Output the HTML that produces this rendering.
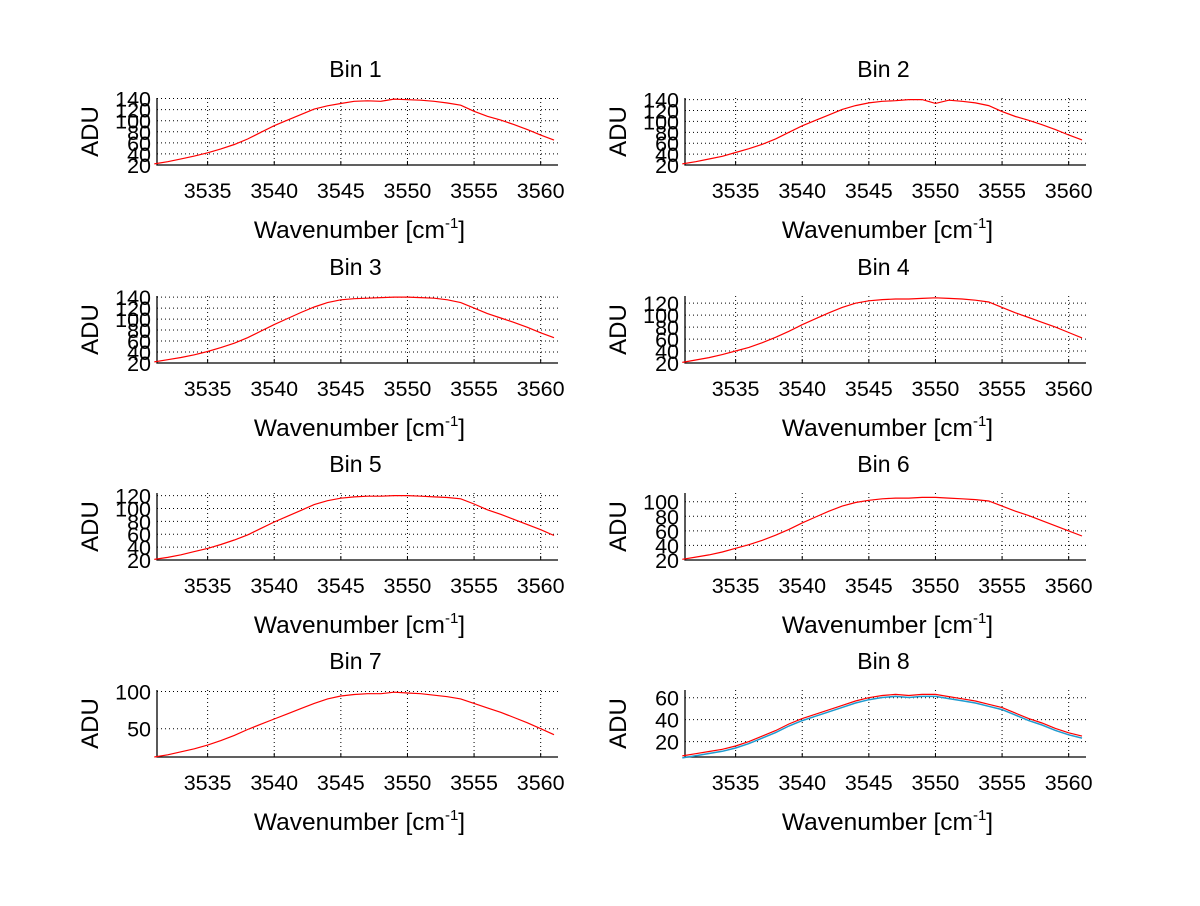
<!DOCTYPE html>
<html><head><meta charset="utf-8"><style>
body{margin:0;background:#fff}
svg text{font-family:"Liberation Sans",sans-serif;fill:#000}
</style></head><body>
<svg id="fig" width="1200" height="901" xmlns="http://www.w3.org/2000/svg"></svg>
<script>
const wavenumbers=[3531,3532,3533,3534,3535,3536,3537,3538,3539,3540,3541,3542,3543,3544,3545,3546,3547,3548,3549,3550,3551,3552,3553,3554,3555,3556,3557,3558,3559,3560,3561];
const xTicks=[3535,3540,3545,3550,3555,3560];
const bin1=[22,26,31,36,42,49,57,67,79,91,101,111,121,127,131,135,136,135,139,138,137,135,132,128,117,108,101,93,84,74,65];
const bin2=[22,26,31,36,43,50,58,68,80,92,102,112,122,129,134,137,138,140,140,133,139,137,134,129,118,109,102,94,85,75,66];
const bin3=[22,26,30,35,41,48,56,66,78,90,101,112,122,130,135,137,138,139,140,140,139,138,135,130,120,110,102,94,85,75,66];
const bin4=[21,25,29,34,40,46,54,63,73,84,94,104,113,120,124,126,127,127,128,129,128,127,125,122,113,104,96,88,80,71,62];
const bin5=[21,24,28,33,38,44,51,59,69,79,88,97,106,112,116,118,119,119,120,120,119,118,117,115,107,98,91,83,75,67,58];
const bin6=[21,24,27,31,36,41,47,54,62,71,79,87,94,99,102,104,105,105,106,106,105,104,103,101,94,87,81,74,67,60,53];
const bin7=[12,15,19,23,28,34,41,49,56,63,70,77,84,90,94,96,97,97,99,98,97,95,93,90,84,78,72,65,58,50,42];
const bin8=[7,9,11,13,16,20,25,30,36,41,45,49,53,57,60,62,63,62,63,63,61,59,57,54,51,46,41,37,32,28,25];
const binData=[bin1,bin2,bin3,bin4,bin5,bin6,bin7,bin8];
const yTicks1=[20,40,60,80,100,120,140];
const yTicks4=[20,40,60,80,100,120];
const yTicks6=[20,40,60,80,100];
const yTicks7=[50,100];
const yTicks8=[20,40,60];
const yTickSets=[yTicks1,yTicks1,yTicks1,yTicks4,yTicks4,yTicks6,yTicks7,yTicks8];
const yMins=[20,20,20,20,20,20,12,6];
const yMaxs=[141,143,142,132,124,112,102,67];
const xMin=3531.2,xMax=3561.3;

const NS="http://www.w3.org/2000/svg";
const svg=document.getElementById('fig');
function mk(tag,attrs,parent){const e=document.createElementNS(NS,tag);for(const k in attrs)e.setAttribute(k,attrs[k]);(parent||svg).appendChild(e);return e;}
const colX=[157,685],rowY=[98,296,493,690],W=401,H=67;
for(let i=0;i<8;i++){
  const x0=colX[i%2],y0=rowY[Math.floor(i/2)];
  const g=mk('g',{});
  
  
  const sx=v=>x0+(v-xMin)/(xMax-xMin)*W;
  const sy=v=>y0+H-(v-yMins[i])/(yMaxs[i]-yMins[i])*H;
  xTicks.forEach(t=>{const l=mk('line',{x1:sx(t),x2:sx(t),y1:y0,y2:y0+H,stroke:'#000','stroke-dasharray':'1,3','stroke-width':1},g);
    
    mk('line',{x1:sx(t),x2:sx(t),y1:y0+H,y2:y0+H-4,stroke:'#000'},g);
    const tx=mk('text',{x:sx(t),y:y0+H+33,'font-size':21.5,'text-anchor':'middle'},g);tx.textContent=t;
    });
  yTickSets[i].forEach(t=>{const l=mk('line',{x1:x0,x2:x0+W,y1:sy(t),y2:sy(t),stroke:'#000','stroke-dasharray':'1,3','stroke-width':1},g);
    
    const tx=mk('text',{x:x0-6,y:sy(t)+8,'font-size':21.5,'text-anchor':'end'},g);tx.textContent=t;
    });
  const ax=mk('path',{d:`M${x0},${y0} V${y0+H} H${x0+W}`,fill:'none',stroke:'#000','stroke-width':1.3},g);
  
  const pts=binData[i].map((v,j)=>sx(wavenumbers[j]).toFixed(1)+','+sy(v).toFixed(1)).join(' ');
  if(i===7){const b=mk('polyline',{points:binData[i].map((v,j)=>sx(wavenumbers[j]).toFixed(1)+','+(sy(v)+2).toFixed(1)).join(' '),fill:'none',stroke:'#1f9bd0','stroke-width':1.5},g);
    }
  const pl=mk('polyline',{points:pts,fill:'none',stroke:'#ff0000','stroke-width':1.2},g);
  
  const t=mk('text',{x:x0+W/2-2,y:y0-21,'font-size':23,'text-anchor':'middle'},g);t.textContent='Bin '+(i+1);
  
  const yl=mk('text',{x:0,y:0,'font-size':24,'text-anchor':'middle',transform:`translate(${x0-59},${y0+H/2}) rotate(-90)`},g);yl.textContent='ADU';
  
  const xl=mk('text',{x:x0+W/2+2,y:y0+H+73,'font-size':24.5,'text-anchor':'middle'},g);
  xl.innerHTML='Wavenumber [cm<tspan dy="-10" font-size="15">-1</tspan><tspan dy="10">]</tspan>';
  
}
</script>
</body></html>
